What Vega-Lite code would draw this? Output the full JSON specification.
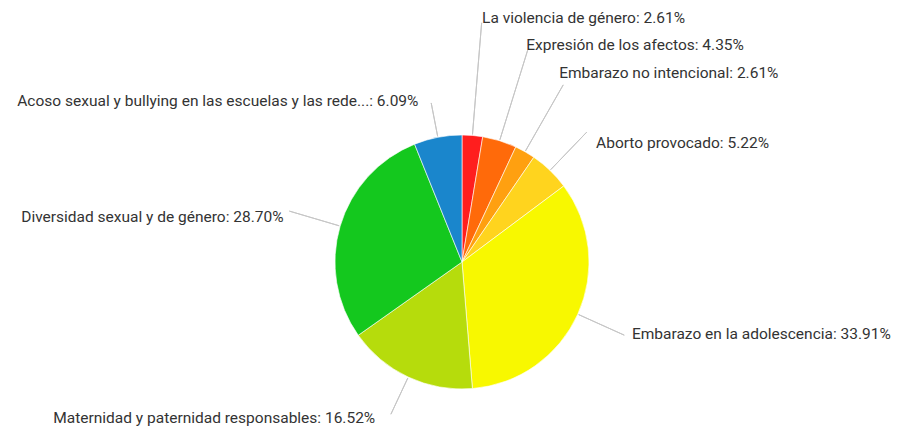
{
  "$schema": "https://vega.github.io/schema/vega-lite/v6.json",
  "width": 870,
  "height": 330,
  "padding": {"left": 27, "top": 97, "right": 0, "bottom": 0},
  "autosize": {"type": "none"},
  "background": "white",
  "config": {"view": {"stroke": null}, "text": {"font": "Roboto"}},
  "data": {"values": [
    {"cat": "La violencia de género", "v": 2.61},
    {"cat": "Expresión de los afectos", "v": 4.35},
    {"cat": "Embarazo no intencional", "v": 2.61},
    {"cat": "Aborto provocado", "v": 5.22},
    {"cat": "Embarazo en la adolescencia", "v": 33.91},
    {"cat": "Maternidad y paternidad responsables", "v": 16.52},
    {"cat": "Diversidad sexual y de género", "v": 28.70},
    {"cat": "Acoso sexual y bullying en las escuelas y las redes sociales", "v": 6.09}
  ]},
  "transform": [
    {"window": [{"op": "row_number", "as": "i"}, {"op": "sum", "field": "v", "as": "cum"}], "frame": [null, 0]},
    {"calculate": "datum.cum - datum.v / 2", "as": "mid"},
    {"calculate": "truncate(datum.cat, 53, 'right', '...') + ': ' + format(datum.v, '.2f') + '%'", "as": "label"}
  ],
  "layer": [
    {
      "mark": {"type": "arc", "radius": 127, "stroke": "white", "strokeWidth": 0.6},
      "encoding": {
        "theta": {"field": "v", "type": "quantitative", "stack": true, "scale": {"domain": [0, 100.01]}},
        "order": {"field": "i", "type": "quantitative"},
        "color": {
          "field": "cat", "type": "nominal", "sort": null, "legend": null,
          "scale": {
            "domain": ["La violencia de género", "Expresión de los afectos", "Embarazo no intencional", "Aborto provocado", "Embarazo en la adolescencia", "Maternidad y paternidad responsables", "Diversidad sexual y de género", "Acoso sexual y bullying en las escuelas y las redes sociales"],
            "range": ["#ff1e1e", "#ff6a0a", "#ffa010", "#ffd41e", "#f8f800", "#b6dc0c", "#14c81e", "#1a86cc"]
          }
        }
      }
    },
    {
      "transform": [{"filter": "datum.i === 1"}],
      "encoding": {"theta": {"field": "mid", "type": "quantitative", "stack": false, "scale": {"domain": [0, 100.01]}}},
      "layer": [
        {"mark": {"type": "arc", "filled": false, "radius": 128, "radius2": 240, "stroke": "#c6c6c6", "strokeWidth": 1}, "encoding": {"theta2": {"field": "mid"}}},
        {"mark": {"type": "text", "radius": 245, "align": "left", "baseline": "middle", "fontSize": 15.5, "color": "#333333"}, "encoding": {"text": {"field": "label"}}}
      ]
    },
    {
      "transform": [{"filter": "datum.i === 2"}],
      "encoding": {"theta": {"field": "mid", "type": "quantitative", "stack": false, "scale": {"domain": [0, 100.01]}}},
      "layer": [
        {"mark": {"type": "arc", "filled": false, "radius": 128, "radius2": 222, "stroke": "#c6c6c6", "strokeWidth": 1}, "encoding": {"theta2": {"field": "mid"}}},
        {"mark": {"type": "text", "radius": 227, "dx": -3, "align": "left", "baseline": "middle", "fontSize": 15.5, "color": "#333333"}, "encoding": {"text": {"field": "label"}}}
      ]
    },
    {
      "transform": [{"filter": "datum.i === 3"}],
      "encoding": {"theta": {"field": "mid", "type": "quantitative", "stack": false, "scale": {"domain": [0, 100.01]}}},
      "layer": [
        {"mark": {"type": "arc", "filled": false, "radius": 128, "radius2": 204, "stroke": "#c6c6c6", "strokeWidth": 1}, "encoding": {"theta2": {"field": "mid"}}},
        {"mark": {"type": "text", "radius": 212, "dx": -8, "dy": -5, "align": "left", "baseline": "middle", "fontSize": 15.5, "color": "#333333"}, "encoding": {"text": {"field": "label"}}}
      ]
    },
    {
      "transform": [{"filter": "datum.i === 4"}],
      "encoding": {"theta": {"field": "mid", "type": "quantitative", "stack": false, "scale": {"domain": [0, 100.01]}}},
      "layer": [
        {"mark": {"type": "arc", "filled": false, "radius": 128, "radius2": 180, "stroke": "#c6c6c6", "strokeWidth": 1}, "encoding": {"theta2": {"field": "mid"}}},
        {"mark": {"type": "text", "radius": 182, "dx": 8, "dy": 12, "align": "left", "baseline": "middle", "fontSize": 15.5, "color": "#333333"}, "encoding": {"text": {"field": "label"}}}
      ]
    },
    {
      "transform": [{"filter": "datum.i === 5"}],
      "encoding": {"theta": {"field": "mid", "type": "quantitative", "stack": false, "scale": {"domain": [0, 100.01]}}},
      "layer": [
        {"mark": {"type": "arc", "filled": false, "radius": 128, "radius2": 178, "stroke": "#c6c6c6", "strokeWidth": 1}, "encoding": {"theta2": {"field": "mid"}}},
        {"mark": {"type": "text", "radius": 182, "dx": 4, "dy": -3, "align": "left", "baseline": "middle", "fontSize": 15.5, "color": "#333333"}, "encoding": {"text": {"field": "label"}}}
      ]
    },
    {
      "transform": [{"filter": "datum.i === 6"}],
      "encoding": {"theta": {"field": "mid", "type": "quantitative", "stack": false, "scale": {"domain": [0, 100.01]}}},
      "layer": [
        {"mark": {"type": "arc", "filled": false, "radius": 128, "radius2": 168, "stroke": "#c6c6c6", "strokeWidth": 1}, "encoding": {"theta2": {"field": "mid"}}},
        {"mark": {"type": "text", "radius": 172, "dx": -14, "align": "right", "baseline": "middle", "fontSize": 15.5, "color": "#333333"}, "encoding": {"text": {"field": "label"}}}
      ]
    },
    {
      "transform": [{"filter": "datum.i === 7"}],
      "encoding": {"theta": {"field": "mid", "type": "quantitative", "stack": false, "scale": {"domain": [0, 100.01]}}},
      "layer": [
        {"mark": {"type": "arc", "filled": false, "radius": 128, "radius2": 180, "stroke": "#c6c6c6", "strokeWidth": 1}, "encoding": {"theta2": {"field": "mid"}}},
        {"mark": {"type": "text", "radius": 186, "dy": 8, "align": "right", "baseline": "middle", "fontSize": 15.5, "color": "#333333"}, "encoding": {"text": {"field": "label"}}}
      ]
    },
    {
      "transform": [{"filter": "datum.i === 8"}],
      "encoding": {"theta": {"field": "mid", "type": "quantitative", "stack": false, "scale": {"domain": [0, 100.01]}}},
      "layer": [
        {"mark": {"type": "arc", "filled": false, "radius": 128, "radius2": 162, "stroke": "#c6c6c6", "strokeWidth": 1}, "encoding": {"theta2": {"field": "mid"}}},
        {"mark": {"type": "text", "radius": 166, "dx": -12, "dy": 2, "align": "right", "baseline": "middle", "fontSize": 15.5, "color": "#333333"}, "encoding": {"text": {"field": "label"}}}
      ]
    }
  ]
}
